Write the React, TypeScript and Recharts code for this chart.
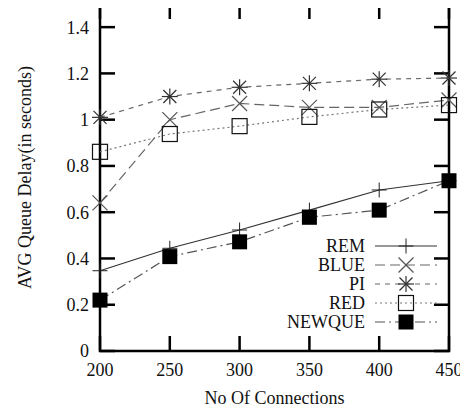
import { LineChart, Line, XAxis, YAxis, Legend, Label, ReferenceLine, ReferenceArea } from "recharts";

// No of connections vs average queue delay
const connections = [200, 250, 300, 350, 400, 450];
const rem = [0.347, 0.444, 0.523, 0.609, 0.696, 0.736];
const blue = [0.64, 1.0, 1.07, 1.053, 1.053, 1.085];
const pi = [1.01, 1.1, 1.14, 1.157, 1.175, 1.18];
const red = [0.861, 0.938, 0.972, 1.012, 1.044, 1.063];
const newque = [0.22, 0.408, 0.472, 0.578, 0.609, 0.736];

const xTicks = [200, 250, 300, 350, 400, 450];
const yTicks = [0, 0.2, 0.4, 0.6, 0.8, 1, 1.2, 1.4];
const xDomain: [number, number] = [200, 450];
const yDomain: [number, number] = [0, 1.5];

const FONT = "'Liberation Serif', 'DejaVu Serif', serif";
const TICK_LEN = 15;
const FRAME = "#000";

type MarkerKind = "plus" | "cross" | "star" | "box" | "fill";

const series: { key: string; name: string; stroke: string; dash?: string; marker: MarkerKind }[] = [
  { key: "rem", name: "REM", stroke: "#333", marker: "plus" },
  { key: "blue", name: "BLUE", stroke: "#666", dash: "10 5", marker: "cross" },
  { key: "pi", name: "PI", stroke: "#666", dash: "5 5", marker: "star" },
  { key: "red", name: "RED", stroke: "#777", dash: "2 3", marker: "box" },
  { key: "newque", name: "NEWQUE", stroke: "#555", dash: "10 4 2 4", marker: "fill" },
];

const data = connections.map((c, i) => ({
  conn: c,
  rem: rem[i],
  blue: blue[i],
  pi: pi[i],
  red: red[i],
  newque: newque[i],
}));

function Marker({ kind, x, y }: { kind: MarkerKind; x: number; y: number }) {
  const h = 7.5;
  switch (kind) {
    case "plus":
      return (
        <g stroke="#222" strokeWidth={1}>
          <line x1={x - h} y1={y} x2={x + h} y2={y} />
          <line x1={x} y1={y - h} x2={x} y2={y + h} />
        </g>
      );
    case "cross":
      return (
        <g stroke="#555" strokeWidth={1.2}>
          <line x1={x - h} y1={y - h} x2={x + h} y2={y + h} />
          <line x1={x - h} y1={y + h} x2={x + h} y2={y - h} />
        </g>
      );
    case "star":
      return (
        <g stroke="#333" strokeWidth={1.2}>
          <line x1={x - 6.5} y1={y - 6.5} x2={x + 6.5} y2={y + 6.5} />
          <line x1={x - 6.5} y1={y + 6.5} x2={x + 6.5} y2={y - 6.5} />
          <line x1={x} y1={y - 8} x2={x} y2={y + 8} />
          <line x1={x - 8} y1={y} x2={x + 8} y2={y} />
        </g>
      );
    case "box":
      return <rect x={x - h} y={y - h} width={15} height={15} fill="none" stroke="#111" strokeWidth={1.2} />;
    default:
      return <rect x={x - h} y={y - h} width={15} height={15} fill="#000" />;
  }
}

const makeDot = (kind: MarkerKind) => (props: any) => {
  const { cx, cy, index } = props;
  if (cx == null || cy == null) return <g key={index} />;
  return (
    <g key={`${kind}-${index}`}>
      <Marker kind={kind} x={cx} y={cy} />
    </g>
  );
};

// gnuplot style: short inward ticks at both ends of each grid position
const VTicks = (p: any) => {
  const top = Math.min(p.y1, p.y2);
  const bot = Math.max(p.y1, p.y2);
  return (
    <g stroke={FRAME} strokeWidth={2.5}>
      <line x1={p.x1} y1={top} x2={p.x1} y2={top + TICK_LEN} />
      <line x1={p.x1} y1={bot} x2={p.x1} y2={bot - TICK_LEN} />
    </g>
  );
};
const HTicks = (p: any) => {
  const l = Math.min(p.x1, p.x2);
  const r = Math.max(p.x1, p.x2);
  return (
    <g stroke={FRAME} strokeWidth={2.5}>
      <line x1={l} y1={p.y1} x2={l + TICK_LEN} y2={p.y1} />
      <line x1={r} y1={p.y1} x2={r - TICK_LEN} y2={p.y1} />
    </g>
  );
};

function LegendBox() {
  return (
    <svg width={468} height={100} style={{ display: "block" }}>
      {series.map((s, i) => {
        const y = 10 + i * 19;
        return (
          <g key={s.key}>
            <text x={365} y={y} textAnchor="end" dominantBaseline="central" fontFamily={FONT} fontSize={18} fill="#111">
              {s.name}
            </text>
            <line x1={375} y1={y} x2={437} y2={y} stroke={s.stroke} strokeWidth={1.2} strokeDasharray={s.dash} />
            <Marker kind={s.marker} x={406} y={y} />
          </g>
        );
      })}
    </svg>
  );
}

export default function App() {
  const tickStyle = { fontFamily: FONT, fontSize: 18, fill: "#111" };
  return (
    <div style={{ margin: -8, width: 468, height: 412, background: "#fff" }}>
      <LineChart width={468} height={412} data={data} margin={{ top: 4, right: 19, bottom: 0, left: 0 }}>
        <XAxis
          dataKey="conn"
          type="number"
          domain={xDomain}
          ticks={xTicks}
          interval={0}
          height={61}
          tickSize={0}
          tickMargin={12}
          tickLine={false}
          axisLine={false}
          tick={tickStyle}
        >
          <Label
            value="No Of Connections"
            position="insideBottom"
            offset={8}
            style={{ fontFamily: FONT, fontSize: 18, fill: "#111" }}
          />
        </XAxis>
        <YAxis
          type="number"
          domain={yDomain}
          ticks={yTicks}
          interval={0}
          width={100}
          tickSize={0}
          tickMargin={11}
          tickLine={false}
          axisLine={false}
          tickFormatter={(v: number) => String(Number(v.toFixed(1)))}
          tick={tickStyle}
        >
          <Label
            content={(p: any) => {
              const vb = p.viewBox || { y: 4, height: 347 };
              const cy = vb.y + vb.height / 2;
              return (
                <text
                  x={25}
                  y={cy}
                  transform={`rotate(-90, 25, ${cy})`}
                  textAnchor="middle"
                  dominantBaseline="central"
                  fontFamily={FONT}
                  fontSize={18}
                  fill="#111"
                >
                  AVG Queue Delay(in seconds)
                </text>
              );
            }}
          />
        </YAxis>
        {xTicks.map((v) => (
          <ReferenceLine key={`x${v}`} x={v} stroke={FRAME} shape={VTicks} />
        ))}
        {yTicks.map((v) => (
          <ReferenceLine key={`y${v}`} y={v} stroke={FRAME} shape={HTicks} />
        ))}
        <ReferenceArea
          x1={xDomain[0]}
          x2={xDomain[1]}
          y1={yDomain[0]}
          y2={yDomain[1]}
          fill="none"
          stroke={FRAME}
          strokeWidth={2.5}
        />
        <Legend
          layout="horizontal"
          verticalAlign="middle"
          align="center"
          content={() => <LegendBox />}
          wrapperStyle={{ position: "absolute", left: 0, top: 236, width: 468 }}
        />
        {series.map((s) => (
          <Line
            key={s.key}
            dataKey={s.key}
            name={s.name}
            type="linear"
            stroke={s.stroke}
            strokeWidth={1.2}
            strokeDasharray={s.dash}
            dot={makeDot(s.marker)}
            activeDot={false}
            isAnimationActive={false}
          />
        ))}
      </LineChart>
    </div>
  );
}
